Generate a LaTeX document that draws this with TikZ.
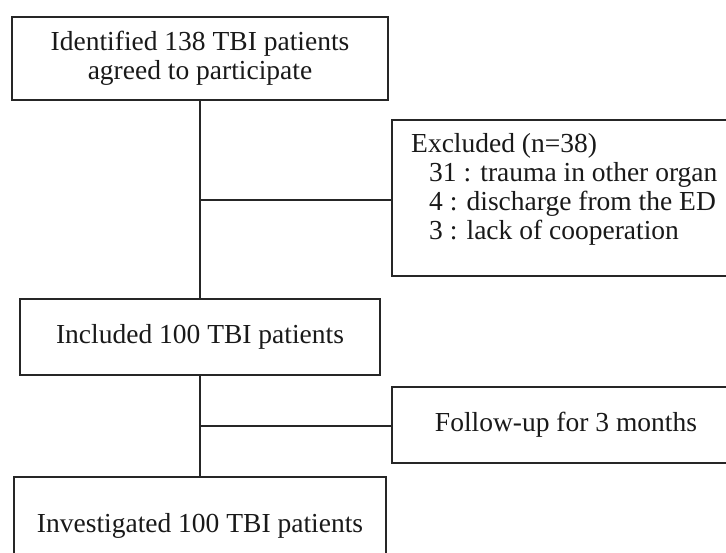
\documentclass[tikz,border=0pt]{standalone}
\usepackage{fontspec}
\setmainfont{Liberation Serif}

\begin{document}
\begin{tikzpicture}
  [x=1pt,y=-1pt,
   every node/.style={font=\fontsize{27.5}{29}\selectfont,text=black!90},
   box/.style={draw=black!85,line width=1.5pt,align=center,inner sep=0pt},
   link/.style={draw=black!85,line width=1.5pt}]
  \useasboundingbox (0,0) rectangle (726,552);
  \clip (0,0) rectangle (726,552);
  \node[box,minimum width=376,minimum height=83] (ident) at (200,58.5)
    {Identified 138 TBI patients\\agreed to participate};
  \node[box,minimum width=348,minimum height=156] (excl) at (566,198) {};
  \node[anchor=north west,align=left,inner sep=0pt] (excltxt) at (411,133)
    {Excluded (n=38)\\
     \hspace*{18pt}31 : trauma in other organ\\
     \hspace*{18pt}4 : discharge from the ED\\
     \hspace*{18pt}3 : lack of cooperation};
  \node[box,minimum width=360,minimum height=76] (incl) at (200,337)
    {Included 100 TBI patients};
  \node[box,minimum width=348,minimum height=76] (follow) at (566,425)
    {Follow-up for 3 months};
  \node[box,minimum width=372,minimum height=98] (invest) at (200,526)
    {Investigated 100 TBI patients};
  \coordinate (br1) at (200,200);
  \coordinate (br2) at (200,426);

\foreach \from/\to in {ident/incl, incl/invest}
    \draw[link] (\from) -- (\to);
  \draw[link] (br1) -- (br1 -| excl.west);
  \draw[link] (br2) -- (br2 -| follow.west);
\end{tikzpicture}
\end{document}
